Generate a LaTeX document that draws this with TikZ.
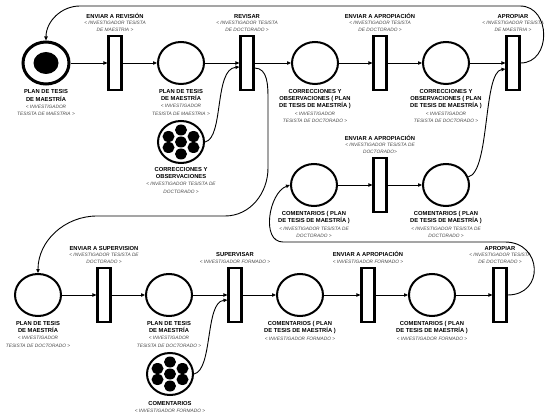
\documentclass[tikz,border=0pt]{standalone}
\usepackage{fontspec}
\setmainfont{Liberation Sans}
\usetikzlibrary{shapes.geometric,arrows.meta,positioning,calc}
\newlength\lsk
\newcommand\B[1]{{\fontsize{5.8pt}{\lsk}\selectfont\bfseries #1}}
\newcommand\R[1]{{\fontsize{4.8pt}{\lsk}\selectfont\itshape\color{black!72}#1}}
\begin{document}
\begin{tikzpicture}[x=1pt,y=1pt,
  place/.style={ellipse, draw, line width=2pt, minimum width=46pt, minimum height=42pt, inner sep=0pt},
  trans/.style={rectangle, draw, fill=white, line width=2.1pt, minimum width=13pt, minimum height=54pt, inner sep=0pt},
  arc/.style={line width=0.9pt, -{Triangle[length=4pt,width=3.4pt]}},
  plabel/.style={align=center, inner sep=0pt, font=\setlength\lsk{7.3pt}\fontsize{5.8pt}{\lsk}\selectfont},
  tlabel/.style={align=center, inner sep=0pt, font=\setlength\lsk{6.8pt}\fontsize{5.8pt}{\lsk}\selectfont}
]
\useasboundingbox (0,0) rectangle (546,-414);
% top row
\node[place, line width=3pt] (P1) at (46,-63) {};
\fill (P1) ellipse (12.5pt and 11pt);
\node[trans] (T1) at (115,-63) {};
\node[place] (P2) at (181,-63) {};
\node[trans] (T2) at (247,-63) {};
\node[place] (P3) at (315,-63) {};
\node[trans] (T3) at (380,-63) {};
\node[place] (P4) at (446,-63) {};
\node[trans] (T4) at (513,-63) {};
\node[place] (K1) at (181,-142) {};
\foreach \dx/\dy in {0/0,0/12,0/-12,-12.5/5.5,12.5/5.5,-12.5/-5.5,12.5/-5.5}
  \fill ($(K1)+(\dx,\dy)$) ellipse (6pt and 5.5pt);
% middle row
\node[place] (P5) at (314,-185) {};
\node[trans] (T5) at (380,-185) {};
\node[place] (P6) at (446,-185) {};
% bottom row
\node[place] (P7) at (38,-295) {};
\node[trans] (T7) at (104,-295) {};
\node[place] (P8) at (169,-295) {};
\node[trans] (T8) at (235,-295) {};
\node[place] (P9) at (300,-295) {};
\node[trans] (T9) at (368,-295) {};
\node[place] (P10) at (432,-295) {};
\node[trans] (T10) at (500,-295) {};
\node[place] (K2) at (170,-374) {};
\foreach \dx/\dy in {0/0,0/12,0/-12,-12.5/5.5,12.5/5.5,-12.5/-5.5,12.5/-5.5}
  \fill ($(K2)+(\dx,\dy)$) ellipse (6pt and 5.5pt);

% transition labels
\node[tlabel, above=3pt of T1] (T1l) {\B{ENVIAR A REVISIÓN}\\\R{< INVESTIGADOR TESISTA}\\\R{DE MAESTRIA >}};
\node[tlabel, above=3pt of T2] (T2l) {\B{REVISAR}\\\R{< INVESTIGADOR TESISTA}\\\R{DE DOCTORADO >}};
\node[tlabel, above=3pt of T3] (T3l) {\B{ENVIAR A APROPIACIÓN}\\\R{< INVESTIGADOR TESISTA}\\\R{DE DOCTORADO >}};
\node[tlabel, above=3pt of T4] (T4l) {\B{APROPIAR}\\\R{< INVESTIGADOR TESISTA}\\\R{DE MAESTRIA >}};
\node[tlabel, above=3pt of T5] (T5l) {\B{ENVIAR A APROPIACIÓN}\\\R{< INVESTIGADOR TESISTA DE}\\\R{DOCTORADO>}};
\node[tlabel, above=3pt of T7] (T7l) {\B{ENVIAR A SUPERVISION}\\\R{< INVESTIGADOR TESISTA DE}\\\R{DOCTORADO >}};
\node[tlabel, above=3pt of T8] (T8l) {\B{SUPERVISAR}\\\R{< INVESTIGADOR FORMADO >}};
\node[tlabel, above=3pt of T9] (T9l) {\B{ENVIAR A APROPIACIÓN}\\\R{< INVESTIGADOR FORMADO >}};
\node[tlabel, above=3pt of T10] (T10l) {\B{APROPIAR}\\\R{< INVESTIGADOR TESISTA}\\\R{DE DOCTORADO >}};

% place labels
\node[plabel, below=4pt of P1] (P1l) {\B{PLAN DE TESIS}\\\B{DE MAESTRÍA}\\\R{< INVESTIGADOR}\\\R{TESISTA DE MAESTRIA >}};
\node[plabel, below=4pt of P2] (P2l) {\B{PLAN DE TESIS}\\\B{DE MAESTRÍA}\\\R{< INVESTIGADOR}\\\R{TESISTA DE MAESTRIA >}};
\node[plabel, below=4pt of P3] (P3l) {\B{CORRECCIONES Y}\\\B{OBSERVACIONES ( PLAN}\\\B{DE TESIS DE MAESTRÍA )}\\\R{< INVESTIGADOR}\\\R{TESISTA DE DOCTORADO >}};
\node[plabel, below=4pt of P4] (P4l) {\B{CORRECCIONES Y}\\\B{OBSERVACIONES ( PLAN}\\\B{DE TESIS DE MAESTRÍA )}\\\R{< INVESTIGADOR}\\\R{TESISTA DE DOCTORADO >}};
\node[plabel, below=3pt of K1] (K1l) {\B{CORRECCIONES Y}\\\B{OBSERVACIONES}\\\R{< INVESTIGADOR TESISTA DE}\\\R{DOCTORADO >}};
\node[plabel, below=4pt of P5] (P5l) {\B{COMENTARIOS ( PLAN}\\\B{DE TESIS DE MAESTRÍA )}\\\R{< INVESTIGADOR TESISTA DE}\\\R{DOCTORADO >}};
\node[plabel, below=4pt of P6] (P6l) {\B{COMENTARIOS ( PLAN}\\\B{DE TESIS DE MAESTRÍA )}\\\R{< INVESTIGADOR TESISTA DE}\\\R{DOCTORADO >}};
\node[plabel, below=4pt of P7] (P7l) {\B{PLAN DE TESIS}\\\B{DE MAESTRÍA}\\\R{< INVESTIGADOR}\\\R{TESISTA DE DOCTORADO >}};
\node[plabel, below=4pt of P8] (P8l) {\B{PLAN DE TESIS}\\\B{DE MAESTRÍA}\\\R{< INVESTIGADOR}\\\R{TESISTA DE DOCTORADO >}};
\node[plabel, below=4pt of P9] (P9l) {\B{COMENTARIOS ( PLAN}\\\B{DE TESIS DE MAESTRÍA )}\\\R{< INVESTIGADOR FORMADO >}};
\node[plabel, below=4pt of P10] (P10l) {\B{COMENTARIOS ( PLAN}\\\B{DE TESIS DE MAESTRÍA )}\\\R{< INVESTIGADOR FORMADO >}};
\node[plabel, below=5pt of K2] (K2l) {\B{COMENTARIOS}\\\R{< INVESTIGADOR FORMADO >}};

% straight arcs
\draw[arc] (P1) -- (T1);
\draw[arc] (T1) -- (P2);
\draw[arc] (P2) -- (T2);
\draw[arc] (T2) -- (P3);
\draw[arc] (P3) -- (T3);
\draw[arc] (T3) -- (P4);
\draw[arc] (P4) -- (T4);
\draw[arc] (P5) -- (T5);
\draw[arc] (T5) -- (P6);
\draw[arc] (P7) -- (T7);
\draw[arc] (T7) -- (P8);
\draw[arc] (P8) -- (T8);
\draw[arc] (T8) -- (P9);
\draw[arc] (P9) -- (T9);
\draw[arc] (T9) -- (P10);
\draw[arc] (P10) -- (T10);
% curved arcs
\draw[arc] (T4.east) to[out=0,in=0,looseness=1.4] (520,-6) -- (80,-6) to[out=180,in=90] (P1.north);
\draw[arc] ($(T2.east)+(0,-5)$) to[out=0,in=90] (268,-100) -- (268,-168) to[out=-90,in=0] (225,-216) -- (97,-216) to[out=180,in=90] (P7.north);
\draw[arc] (K1.east) .. controls (224,-138) and (214,-69) .. ($(T2.west)+(0,-4)$);
\draw[arc] (P6.20) .. controls (490,-172) and (483,-72) .. ($(T4.west)+(0,-6)$);
\draw[arc] (T10.east) to[out=0,in=0,looseness=1.8] (505,-242) -- (283,-242) to[out=180,in=200] (P5.west);
\draw[arc] (K2.east) .. controls (213,-370) and (205,-302) .. ($(T8.west)+(0,-5)$);
\end{tikzpicture}
\end{document}
